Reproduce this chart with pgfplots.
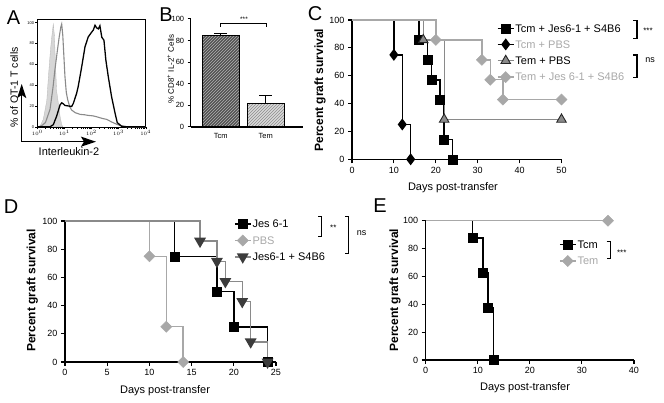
\documentclass[border=0pt]{standalone}
\usepackage{pgfplots}
\pgfplotsset{compat=1.18}
\usepackage{fontspec}
\setmainfont{Liberation Sans}
\usetikzlibrary{patterns,arrows.meta}
\definecolor{lg}{HTML}{A8A8A8}
\definecolor{mg}{HTML}{8A8A8A}
\definecolor{dg}{HTML}{3C3C3C}
\definecolor{fillA}{HTML}{D6D6D6}
\newcommand{\fs}[1]{\fontsize{#1}{#1}\selectfont}
\pgfplotsset{
 surv/.style={
  scale only axis, anchor=south west, clip=false,
  axis lines=left,
  axis line style={-, line width=1.2pt},
  every tick/.style={black, line width=1.1pt},
  major tick length=4pt,
  tick align=outside,
  ymin=0, ymax=100, ytick={0,20,40,60,80,100},
  /pgf/number format/assume math mode=true,
  ticklabel style={font=\fs{9}},
  xlabel={Days post-transfer}, ylabel={Percent graft survival},
  xlabel style={font=\fs{11}, anchor=center},
  ylabel style={font=\bfseries\fs{12}, anchor=center},
  legend cell align=left,
  legend style={draw=none, fill=none, inner sep=0pt, outer sep=0pt, row sep=6pt,
    nodes={inner sep=1pt, text depth=0pt}, font=\fs{11},
    /tikz/every even column/.append style={column sep=4pt}},
  legend image code/.code={\draw[mark repeat=2,mark phase=2] plot coordinates {(0pt,0pt)(8pt,0pt)(16pt,0pt)};},
  every axis plot/.append style={const plot, mark phase=2},
 },
 sq/.style={black, line width=1.5pt, mark=square*, mark size=4.5pt, mark options={solid, fill=black, line width=0.5pt}},
 dia/.style={#1, line width=1.4pt, mark=square*, mark size=3.9pt, mark options={solid, rotate=45, fill=#1, draw=#1, line width=0.5pt}},
}
\begin{document}
\begin{tikzpicture}[x=1pt,y=1pt]
\useasboundingbox (0,0) rectangle (664,402);

% ---------------- Panel A ----------------
\begin{axis}[scale only axis, anchor=south west, at={(37.3pt,274.6pt)}, width=108.4pt, height=108pt,
  xmin=0, xmax=4, ymin=-0.6, ymax=103.1,
  xtick={0,1,2,3,4}, xticklabels={$10^0$,$10^1$,$10^2$,$10^3$,$10^4$},
  minor xtick={0.301,0.477,0.602,0.699,0.778,0.845,0.903,0.954,
    1.301,1.477,1.602,1.699,1.778,1.845,1.903,1.954,
    2.301,2.477,2.602,2.699,2.778,2.845,2.903,2.954,
    3.301,3.477,3.602,3.699,3.778,3.845,3.903,3.954},
  ytick={0,20,40,60,80,100},
  xtick pos=left, ytick pos=left,
  tick align=outside, major tick length=2pt, minor tick length=1.2pt,
  every tick/.style={black, line width=0.4pt},
  ticklabel style={font=\fs{4}, inner sep=1pt},
  /pgf/number format/assume math mode=true,
  axis line style={line width=0.9pt},
  clip=true]
\addplot[fill=fillA, draw=fillA!85!black, line width=0.3pt] coordinates {(0.05,0)(0.10,0.5)(0.22,7)(0.35,25)(0.41,48)(0.49,75)(0.55,90)(0.59,98.6)(0.63,88)(0.68,55)(0.71,35)(0.78,22)(0.84,10)(0.90,2)(0.94,0)} \closedcycle;
\addplot[color=mg, line width=1.1pt] coordinates {(0.05,0)(0.16,1)(0.3,4)(0.47,16.7)(0.58,38)(0.65,54.8)(0.75,75)(0.81,86.5)(0.87,96)(0.90,98.6)(0.94,88)(1.02,48.4)(1.07,33)(1.12,26.2)(1.2,19)(1.27,16)(1.4,13.5)(1.58,11.9)(1.75,11.5)(1.88,10.9)(2.05,10.5)(2.19,9.6)(2.4,8)(2.56,7.1)(2.75,4.5)(2.93,2.4)(3.11,0.8)(3.3,0)(4,0)};
\addplot[black, line width=1.3pt] coordinates {(0,0)(0.47,0)(0.59,2)(0.71,9.9)(0.84,21)(0.90,23)(0.96,22)(1.02,20.5)(1.14,20)(1.27,19.5)(1.33,22.5)(1.45,32)(1.51,38.7)(1.64,57.8)(1.76,76.8)(1.88,86.3)(2.01,91)(2.07,93)(2.13,97.5)(2.19,95)(2.25,94)(2.31,97)(2.38,86)(2.46,83)(2.53,64)(2.62,48)(2.74,29)(2.87,13)(2.95,4)(3.11,0.5)(3.3,0)(4,0)};
\end{axis}
\draw[line width=1.5pt, -{Stealth[length=14pt,width=9pt,inset=3pt]}] (21.7,260.3) -- (21.7,318);
\draw[line width=1.5pt, -{Stealth[length=15pt,width=10pt,inset=3pt]}] (21.7,260.3) -- (96,260.3);
\node[rotate=90, font=\fs{10.5}] at (14,314.5) {\% of OT-1 T cells};
\node[font=\fs{11}] at (69,250.3) {Interleukin-2};

% ---------------- Panel B ----------------
\begin{axis}[scale only axis, anchor=south west, at={(190.7pt,275pt)}, width=112pt, height=108pt,
  axis lines=left, axis line style={-, line width=1.2pt},
  xmin=0.33, xmax=2.82, ymin=0, ymax=100,
  ytick={0,20,40,60,80,100}, xtick={1,2}, xticklabels={Tcm,Tem},
  x tick style={draw=none}, y tick style={black, line width=1pt},
  major tick length=3pt, tick align=outside,
  ticklabel style={font=\fs{7.5}},
  /pgf/number format/assume math mode=true,
  bar width=0.822, clip=false]
\addplot[ybar, bar shift=0pt, fill=black!68, draw=black, line width=1.3pt,
  postaction={pattern=north east lines, pattern color=black!30},
  error bars/.cd, y dir=plus, y explicit,
  error bar style={line width=1.2pt, black},
  error mark options={rotate=90, mark size=6.5pt, line width=1.2pt, black}]
  coordinates {(1,85) +- (0,1.5)};
\addplot[ybar, bar shift=0pt, fill=black!15, draw=black, line width=1.3pt,
  postaction={pattern=north east lines, pattern color=black!45},
  error bars/.cd, y dir=plus, y explicit,
  error bar style={line width=1.2pt, black},
  error mark options={rotate=90, mark size=6.5pt, line width=1.2pt, black}]
  coordinates {(2,22) +- (0,7.5)};
\end{axis}
\node[rotate=90, font=\fs{8}] at (170.7,333) {\% CD8\textsuperscript{+} IL-2\textsuperscript{+} Cells};
\draw[line width=1pt] (220,375.3) -- (220,378.7) -- (266.7,378.7) -- (266.7,375.3);
\node[font=\fs{6.5}] at (244,383) {***};

% ---------------- Panel C ----------------
\begin{axis}[surv, at={(352pt,242.7pt)}, width=209.5pt, height=139.3pt,
  xmin=0, xmax=50, xtick={0,10,20,30,40,50},
  xlabel style={at={(axis description cs:0.482,-0.206)}},
  ylabel style={at={(axis description cs:-0.153,0.497)}},
  legend style={at={(axis description cs:0.692,0.972)}, anchor=north west}]
\addplot[sq] coordinates {(0,100)(16,85.7)(18,71.4)(19,57.1)(21,42.9)(22,14.3)(24,0)};
\addlegendentry{Tcm + Jes6-1 + S4B6}
\addplot[black, line width=1.5pt, mark=diamond*, mark size=4.8pt, mark options={solid, fill=black}] coordinates {(0,100)(10,75)(12,25)(14,0)};
\addlegendentry{\textcolor{lg}{Tcm + PBS}}
\addplot[color=mg, line width=1.3pt, mark=triangle*, mark size=5.5pt, mark options={solid, fill=mg, draw=black!85, line width=0.9pt}] coordinates {(0,100)(17,85.7)(22,28.6)(50,28.6)};
\addlegendentry{Tem + PBS}
\addplot[dia=lg] coordinates {(0,100)(20,85.7)(31,71.4)(33,57.1)(36,42.9)(50,42.9)};
\addlegendentry{\textcolor{lg}{Tem + Jes 6-1 + S4B6}}
\end{axis}
\draw[line width=1.3pt] (633,381.3) -- (637,381.3) -- (637,363.7) -- (633,363.7);
\node[font=\fs{8}] at (648,371) {***};
\draw[line width=1.3pt] (633,347) -- (637,347) -- (637,324.7) -- (633,324.7);
\node[font=\fs{9}] at (650,341.5) {ns};

% ---------------- Panel D ----------------
\begin{axis}[surv, at={(65pt,40pt)}, width=211pt, height=141pt,
  xmin=0, xmax=25, xtick={0,5,10,15,20,25},
  xlabel style={at={(axis description cs:0.474,-0.204)}},
  ylabel style={at={(axis description cs:-0.155,0.507)}},
  legend style={at={(axis description cs:0.801,1.012)}, anchor=north west}]
\addplot[sq] coordinates {(0,100)(13,75)(18,50)(20,25)(24,0)};
\addlegendentry{Jes 6-1}
\addplot[dia=lg] coordinates {(0,100)(10,75)(12,25)(14,0)};
\addlegendentry{\textcolor{lg}{PBS}}
\addplot[color=mg, line width=1.4pt, mark=triangle*, mark size=5.5pt, mark options={solid, rotate=180, fill=dg, draw=dg}] coordinates {(0,100)(16,85.7)(18,71.4)(19,57.1)(21,42.9)(22,14.3)(24,0)};
\addlegendentry{Jes6-1 + S4B6}
\end{axis}
\draw[line width=1.3pt] (318,185.3) -- (321.7,185.3) -- (321.7,165.3) -- (318,165.3);
\node[font=\fs{8}] at (333.3,174) {**};
\draw[line width=1.3pt] (345,185.3) -- (348.3,185.3) -- (348.3,148.7) -- (345,148.7);
\node[font=\fs{9}] at (361.7,168.7) {ns};

% ---------------- Panel E ----------------
\begin{axis}[surv, at={(425.7pt,42pt)}, width=208.3pt, height=139.3pt,
  xmin=0, xmax=40, xtick={0,10,20,30,40},
  xlabel style={at={(axis description cs:0.477,-0.201)}},
  ylabel style={at={(axis description cs:-0.147,0.502)}},
  legend style={at={(axis description cs:0.640,0.862)}, anchor=north west}]
\addplot[sq] coordinates {(0,100)(9,87.5)(11,62.5)(12,37.5)(13,0)};
\addlegendentry{Tcm}
\addplot[dia=lg] coordinates {(0,100)(35,100)};
\addlegendentry{\textcolor{lg}{Tem}}
\end{axis}
\draw[line width=1.3pt] (606.7,160.3) -- (610.7,160.3) -- (610.7,143.7) -- (606.7,143.7);
\node[font=\fs{8}] at (621.7,149.5) {***};

% ---------------- Panel letters ----------------
\node[font=\fs{20}] at (13.5,384.5) {A};
\node[font=\fs{20}] at (166,387.5) {B};
\node[font=\fs{20}] at (315,388) {C};
\node[font=\fs{20}] at (11,195) {D};
\node[font=\fs{20}] at (380,196) {E};
\end{tikzpicture}
\end{document}
